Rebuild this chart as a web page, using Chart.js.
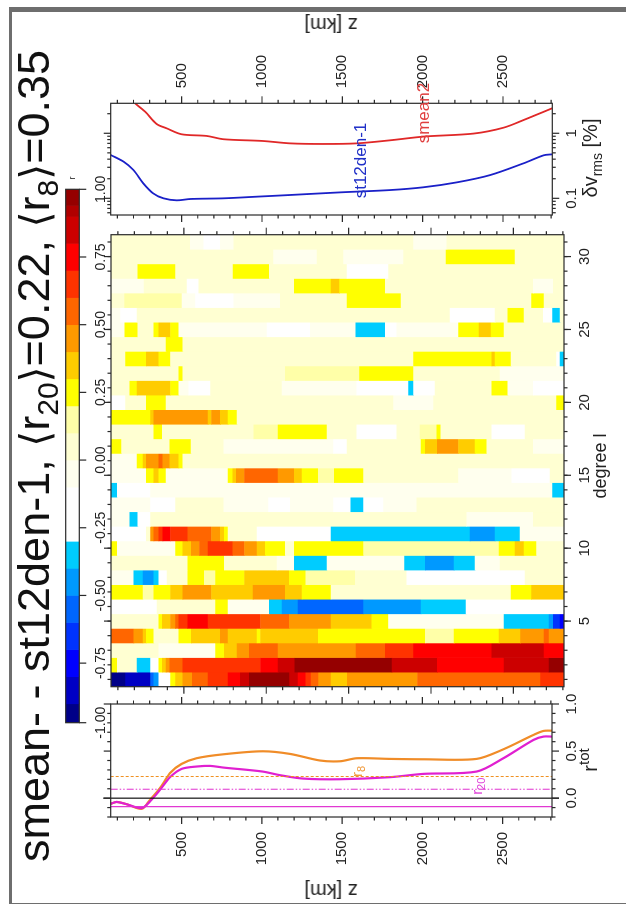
<!DOCTYPE html>
<html lang="en">
<head>
  <meta charset="UTF-8" />
  <title>smean- - st12den-1</title>
  <script src="https://cdn.jsdelivr.net/npm/chart.js@4"></script>
  <style>
    html, body { margin: 0; padding: 0; background: #fff; overflow: hidden; }
    body { width: 626px; height: 904px; position: relative; font-family: "Liberation Sans", sans-serif; color: #222; }
    .bar { position: absolute; background: #6e6e6e; }
    /* the whole figure was plotted landscape and turned on its side */
    #sheet { position: absolute; left: 0; top: 0; width: 904px; height: 626px; transform-origin: 0 0; transform: translateY(904px) rotate(-90deg); filter: blur(0.4px); }
    #sheet canvas { position: absolute; left: 0; top: 0; }
    .lab { position: absolute; transform: translate(-50%, -50%); white-space: nowrap; line-height: 1; }
    .z { transform: translate(-50%, -50%) rotate(-90deg); font-size: 20px; }
    #title { position: absolute; left: 42px; top: 9px; font-size: 45px; white-space: nowrap; line-height: 50px; color: #111; }
    #title sub { font-size: 30px; vertical-align: -9px; line-height: 0; }
    #title .br { font-family: "DejaVu Sans", sans-serif; font-size: 41px; }
    sub, sup { line-height: 0; }
  </style>
</head>
<body>
  <div class="bar" style="left:9px;top:7px;width:3px;height:897px"></div>
  <div class="bar" style="left:9px;top:7px;width:617px;height:5px"></div>
  <div class="bar" style="left:9px;top:903px;width:617px;height:1px"></div>
  <div id="sheet">
    <canvas id="rChart" width="904" height="626"></canvas>
    <canvas id="heatChart" width="904" height="626"></canvas>
    <canvas id="rmsChart" width="904" height="626"></canvas>
    <canvas id="barChart" width="904" height="626"></canvas>
    <div id="title">smean- - st12den-1, <span class="br">⟨</span>r<sub>20</sub><span class="br">⟩</span>=0.22, <span class="br">⟨</span>r<sub>8</sub><span class="br">⟩</span>=0.35</div>
    <div class="lab" style="left:726px;top:72px;font-size:9px">r</div>
    <div class="lab" style="left:438px;top:600px;font-size:18px">degree l</div>
    <div class="lab z" style="left:13px;top:331px">z [km]</div>
    <div class="lab z" style="left:879px;top:331px">z [km]</div>
    <div class="lab" style="left:144px;top:590px;font-size:20px">r<sup style="font-size:15px">tot</sup></div>
    <div class="lab" style="left:746px;top:590px;font-size:20px">δv<sub style="font-size:14px">rms</sub> [%]</div>
  </div>

  <script>
    const FONT = '"Liberation Sans", sans-serif';
    const zMin = 58;
    const zMax = 2807;
    const zMajor = [500, 1000, 1500, 2000, 2500];
    const zMinor = [100, 200, 300, 400, 600, 700, 800, 900, 1100, 1200, 1300, 1400, 1600, 1700, 1800, 1900, 2100, 2200, 2300, 2400, 2600, 2700, 2800];

    // colour bar levels
    const barEdges = [-0.97, -0.9, -0.8, -0.7, -0.6, -0.5, -0.4, -0.3, -0.1, 0, 0.1, 0.2, 0.3, 0.4, 0.5, 0.6, 0.7, 0.8, 0.9, 0.94, 1];
    const barColors = ["#000088", "#0000c4", "#0000ff", "#0033ff", "#0066ff", "#0099ff", "#00ccff", "#ffffff", "#ffffee", "#ffffd2", "#ffffa8", "#ffff00", "#ffcc00", "#ff9900", "#ff6600", "#ff3300", "#ff0000", "#cc0000", "#b00000", "#950000"];
    const barTicks = [-1, -0.75, -0.5, -0.25, 0, 0.25, 0.5, 0.75, 1];

    // heat map: for each degree l the upper depth of every cell and its r
    const degrees = ["1","2","3","4","5","6","7","8","9","10","11","12","13","14","15","16","17","18","19","20","21","22","23","24","25","26","27","28","29","30","31"];
    const cellEnds = [
      [147,298,318,349,419,450,494,551,647,769,843,898,1142,1193,1241,1272,1318,1393,1492,1918,2665,2807],
      [96,217,298,349,369,393,415,494,965,1072,1173,1763,2039,2443,2716,2807],
      [349,692,746,823,898,1072,1546,1722,1894,2369,2686,2807],
      [197,252,272,318,470,546,722,769,944,965,1316,1965,2140,2413,2544,2686,2716,2807],
      [349,369,419,450,470,524,647,965,1140,1393,1641,1742,2443,2716,2742,2783,2807],
      [338,692,769,1019,1096,1193,1591,1940,2213,2807],
      [252,318,419,494,668,920,1116,1217,1393,2486,2611,2807],
      [197,252,318,349,399,524,625,692,868,1140,1241,1540,1853,2571,2807],
      [524,746,1066,1171,1369,1839,1965,2140,2268,2419,2807],
      [96,450,494,546,595,647,797,868,944,995,1116,1171,1591,2413,2510,2564,2641,2807],
      [272,298,318,349,373,419,524,668,722,746,769,944,1393,2237,2389,2540,2807],
      [173,221,298,2217,2621,2807],
      [298,450,742,1015,1146,1409,1514,1591,1712,1914,2807],
      [96,298,2738,2807],
      [272,318,349,393,769,797,819,868,1072,1171,1217,1316,1413,1591,2167,2490,2722,2807],
      [217,252,272,349,373,415,470,494,2807],
      [122,415,544,742,1409,1490,1940,1965,2039,2167,2268,2338,2621,2807],
      [318,369,924,1072,1369,1550,1793,1934,2035,2059,2369,2571,2807],
      [298,318,647,668,722,769,823,2807],
      [147,272,393,1773,2015,2762,2807],
      [173,217,419,470,530,662,1096,1550,1864,1894,2025,2369,2466,2621,2807],
      [470,494,1116,1567,1894,2419,2807],
      [147,272,349,419,1894,2369,2389,2486,2762,2783,2807],
      [393,494,2807],
      [142,221,318,349,419,470,1005,1268,1544,1722,1793,2167,2292,2365,2443,2807],
      [116,217,2116,2389,2466,2564,2682,2738,2783,2807],
      [140,490,571,803,1086,1490,1819,2611,2686,2807],
      [258,520,591,1171,1393,1445,1722,2621,2742,2807],
      [221,450,799,1019,1490,1742,2807],
      [1045,1308,1470,1833,2092,2510,2807],
      [540,621,722,803,1894,2096,2807]
    ];
    const cellR = [
      [-.95,-.85,-.55,-.45,-.2,.25,.35,.45,.55,.65,.75,.85,.97,.85,.75,.65,.55,.45,.35,.45,.55,.65],
      [.25,.05,-.35,-.2,.25,.35,.45,.55,.65,.75,.85,.97,.85,.75,.85,.97],
      [.05,-.05,.25,.35,.45,.55,.45,.55,.65,.75,.85,.75],
      [.55,.45,.35,.25,.05,.25,.35,.45,.35,.25,.35,.25,.15,.25,.35,.45,.55,.45],
      [.05,.25,.35,.45,.55,.65,.75,.65,.55,.45,.35,.25,-.05,-.35,-.45,-.65,-.75],
      [-.2,.05,.25,-.05,-.35,-.45,-.55,-.45,-.35,-.2],
      [.25,.15,.25,.35,.45,.35,.45,.35,.25,.05,.25,.35],
      [-.05,-.35,-.45,-.35,-.2,.05,.25,.15,.25,.35,.25,.15,.05,-.2,.05],
      [.05,.25,.05,-.05,-.35,-.05,-.35,-.45,-.35,-.05,.05],
      [.25,-.05,.25,.35,.45,.55,.65,.55,.45,.35,.25,.05,.25,.15,.25,.35,.25,.05],
      [-.2,.05,.45,.55,.65,.75,.65,.55,.45,.35,.25,.05,-.2,-.35,-.45,-.35,-.05],
      [-.05,-.35,-.2,.05,-.05,.05],
      [-.05,-.2,.05,-.05,-.2,-.05,-.2,-.35,-.2,-.05,.05],
      [-.35,-.2,-.05,-.35],
      [-.05,.25,.35,.25,-.05,.25,.35,.45,.55,.45,.35,.25,.15,.25,.05,-.05,-.2,.05],
      [-.05,.25,.35,.45,.55,.45,.35,.25,.05],
      [.25,.05,.25,.05,-.05,-.2,.05,.25,.35,.45,.35,.25,.05,-.05],
      [.05,.25,.05,.15,.25,.05,-.2,.05,.15,.25,.05,-.2,.05],
      [.25,.35,.45,.35,.45,.35,.25,.05],
      [-.2,.05,.25,.05,-.05,.05,.25],
      [.05,.25,.35,.25,-.05,-.2,.05,-.05,-.2,-.35,-.2,.05,.25,-.05,-.2],
      [.05,.25,.05,.15,.25,.05,-.05],
      [.05,.25,.35,.25,.05,.25,.35,.25,.05,-.2,-.35],
      [.05,.25,.05],
      [-.05,.25,.05,.25,.35,.25,-.05,-.2,-.05,-.35,-.2,-.05,.25,.35,.25,.05],
      [-.05,-.2,.05,-.2,.05,.25,.05,-.2,-.35,.05],
      [.05,.15,-.05,-.2,-.05,.05,.25,.05,.25,.05],
      [-.05,.05,-.2,.05,.25,.35,.25,.05,-.05,.05],
      [.05,.25,.05,.25,.05,-.2,.05],
      [.05,-.05,.05,-.05,.05,.25,.05],
      [.05,-.05,-.2,-.05,.05,-.05,.05]
    ];

    // correlation panel
    const r8Z = [58,95,157,251,303,365,427,500,593,760,1003,1175,1362,1487,1590,1798,2006,2338,2504,2691,2754,2807];
    const r8 = [-.06,-.04,-.064,-.113,-.018,.106,.265,.364,.424,.466,.498,.47,.40,.392,.424,.417,.413,.417,.519,.671,.714,.717];
    const r20Z = [58,95,157,251,303,365,427,500,593,677,760,1003,1113,1258,1487,1798,2006,2338,2504,2691,2754,2807];
    const r20 = [-.06,-.04,-.064,-.106,-.035,.088,.223,.311,.336,.343,.325,.283,.244,.208,.201,.223,.258,.283,.424,.618,.654,.654];
    const rMean8 = 0.23;
    const rMean20 = 0.095;
    const rZero = 0;
    const rLow = -0.09;
    const rTicks = [0, 0.5, 1];
    const rMinor = [-0.2, -0.1, 0.1, 0.2, 0.3, 0.4, 0.6, 0.7, 0.8, 0.9];

    // rms panel
    const smeanZ = [209,272,344,407,500,656,760,1003,1175,1383,1590,1798,2006,2317,2504,2629,2807];
    const smean = [2.89,2.15,1.39,1.19,.965,.91,.81,.762,.70,.685,.70,.78,.89,.99,1.22,1.60,2.43];
    const stZ = [58,137,199,261,323,386,469,552,760,967,1175,1487,1798,2006,2213,2421,2629,2754,2807];
    const st = [.464,.367,.273,.170,.119,.100,.0931,.0976,.1,.106,.1125,.1235,.134,.148,.176,.228,.346,.459,.475];
    const rmsTicks = [0.1, 1];
    const rmsMinor = [0.06, 0.07, 0.08, 0.09, 0.2, 0.3, 0.4, 0.5, 0.6, 0.7, 0.8, 0.9, 2];

    function colorFor(r) {
      for (let i = 0; i < barColors.length; i++) {
        if (r < barEdges[i + 1]) return barColors[i];
      }
      return barColors[barColors.length - 1];
    }

    // frame and tick marks on the outside of a panel
    const frameTicks = {
      id: "frameTicks",
      afterDraw(chart, args, opts) {
        const { ctx, chartArea: a, scales } = chart;
        ctx.save();
        ctx.strokeStyle = "#2a2a2a";
        ctx.lineWidth = 1.2;
        ctx.strokeRect(a.left, a.top, a.width, a.height);
        const mark = (scale, values, len, sides) => values.forEach(v => {
          const p = scale.getPixelForValue(v);
          ctx.beginPath();
          if (scale.isHorizontal()) {
            if (sides.includes("t")) { ctx.moveTo(p, a.top); ctx.lineTo(p, a.top - len); }
            if (sides.includes("b")) { ctx.moveTo(p, a.bottom); ctx.lineTo(p, a.bottom + len); }
          } else {
            if (sides.includes("l")) { ctx.moveTo(a.left, p); ctx.lineTo(a.left - len, p); }
            if (sides.includes("r")) { ctx.moveTo(a.right, p); ctx.lineTo(a.right + len, p); }
          }
          ctx.stroke();
        });
        opts.marks.forEach(m => {
          mark(scales[m.axis], m.major, 7, m.sides);
          mark(scales[m.axis], m.minor || [], 3.5, m.sides);
        });
        ctx.restore();
      }
    };

    // small names written next to the curves
    const curveNames = {
      id: "curveNames",
      afterDraw(chart, args, opts) {
        const { ctx, scales } = chart;
        ctx.save();
        ctx.textBaseline = "middle";
        opts.items.forEach(t => {
          const x = scales.x.getPixelForValue(t.value);
          const y = scales.y.getPixelForValue(t.z);
          ctx.fillStyle = t.color;
          ctx.font = t.size + "px " + FONT;
          ctx.fillText(t.text, x, y);
          if (t.sub) {
            const w = ctx.measureText(t.text).width;
            ctx.font = (t.size - 4) + "px " + FONT;
            ctx.fillText(t.sub, x + w, y + 4);
          }
        });
        ctx.restore();
      }
    };

    // pins an axis to a fixed thickness so the panel lands where it should
    const fixSize = size => axis => {
      if (axis.isHorizontal()) axis.height = size; else axis.width = size;
      axis.paddingLeft = axis.paddingRight = axis.paddingTop = axis.paddingBottom = 0;
    };
    const setTicks = values => axis => { axis.ticks = values.map(v => ({ value: v })); };
    const tickFont = { family: FONT, size: 15 };
    const zAxisSize = 60;
    const common = {
      responsive: false,
      animation: false,
      events: []
    };
    const zAxis = extra => Object.assign({
      type: "linear",
      reverse: true,
      min: zMin,
      max: zMax,
      grid: { display: false, drawTicks: false },
      border: { display: false }
    }, extra);
    const zLabelled = (position) => zAxis({
      position,
      afterFit: fixSize(zAxisSize),
      afterBuildTicks: setTicks(zMajor),
      ticks: { font: tickFont, color: "#222", padding: 15, autoSkip: false, callback: v => String(v) }
    });

    // correlation panel
    new Chart(document.getElementById("rChart"), {
      type: "scatter",
      data: {
        datasets: [
          { data: [zMin, zMax].map(z => ({ x: rLow, y: z })), borderColor: "#e030d0", borderWidth: 1.2, showLine: true, pointRadius: 0 },
          { data: [zMin, zMax].map(z => ({ x: rMean20, y: z })), borderColor: "#e030d0", borderWidth: 1, borderDash: [7, 2, 1.5, 2, 1.5, 2], showLine: true, pointRadius: 0 },
          { data: [zMin, zMax].map(z => ({ x: rMean8, y: z })), borderColor: "#f09020", borderWidth: 1, borderDash: [3, 2], showLine: true, pointRadius: 0 },
          { data: [12, 2850].map(z => ({ x: rZero, y: z })), borderColor: "#111", borderWidth: 1.2, showLine: true, pointRadius: 0, clip: false },
          { data: r20Z.map((z, i) => ({ x: r20[i], y: z })), borderColor: "#e020d0", borderWidth: 2.2, showLine: true, pointRadius: 0, tension: 0.3 },
          { data: r8Z.map((z, i) => ({ x: r8[i], y: z })), borderColor: "#f08c28", borderWidth: 2.2, showLine: true, pointRadius: 0, tension: 0.3 }
        ]
      },
      options: Object.assign({}, common, {
        layout: { padding: { left: 87 - zAxisSize, right: 904 - 200, top: 110.7, bottom: 626 - 552 - 30 } },
        scales: {
          x: {
            type: "linear", min: -0.2, max: 1,
            grid: { display: false, drawTicks: false }, border: { display: false },
            afterFit: fixSize(30),
            afterBuildTicks: setTicks(rTicks),
            ticks: { font: tickFont, color: "#222", padding: 11, autoSkip: false, maxRotation: 0, callback: v => v.toFixed(1) }
          },
          y: zLabelled("left")
        },
        plugins: {
          legend: { display: false }, tooltip: { enabled: false },
          frameTicks: { marks: [
            { axis: "x", major: rTicks, minor: rMinor, sides: "tb" },
            { axis: "y", major: zMajor, minor: zMinor, sides: "lr" }
          ] },
          curveNames: { items: [
            { text: "r", sub: "8", value: 0.225, z: 1600, color: "#f09838", size: 15 },
            { text: "r", sub: "20", value: 0.035, z: 2348, color: "#e040d8", size: 15 }
          ] }
        }
      }),
      plugins: [frameTicks, curveNames]
    });

    // heat map, one floating bar per cell
    const cells = [];
    const cellColors = [];
    degrees.forEach((l, i) => {
      let from = zMin;
      cellEnds[i].forEach((end, j) => {
        cells.push({ x: l, y: [from, end] });
        cellColors.push(colorFor(cellR[i][j]));
        from = end;
      });
    });
    new Chart(document.getElementById("heatChart"), {
      type: "bar",
      data: {
        labels: degrees,
        datasets: [{ data: cells, backgroundColor: cellColors, borderWidth: 0, barPercentage: 1, categoryPercentage: 1 }]
      },
      options: Object.assign({}, common, {
        layout: { padding: { left: 217.3, right: 904 - 669.3, top: 111, bottom: 626 - 564 - 30 } },
        scales: {
          x: {
            type: "category",
            grid: { display: false, drawTicks: false }, border: { display: false },
            afterFit: fixSize(30),
            afterBuildTicks: axis => { axis.ticks = axis.ticks.filter(t => Number(degrees[t.value]) % 5 === 0); },
            ticks: { font: tickFont, color: "#222", padding: 12, autoSkip: false, maxRotation: 0 }
          },
          y: zAxis({ ticks: { display: false }, afterFit: fixSize(0) })
        },
        plugins: {
          legend: { display: false }, tooltip: { enabled: false },
          frameTicks: { marks: [
            { axis: "x", major: degrees.map((d, i) => i).filter(i => Number(degrees[i]) % 5 === 0), minor: degrees.map((d, i) => i), sides: "tb" },
            { axis: "y", major: zMajor, minor: zMinor, sides: "lr" }
          ] }
        }
      }),
      plugins: [frameTicks]
    });

    // rms panel
    new Chart(document.getElementById("rmsChart"), {
      type: "scatter",
      data: {
        datasets: [
          { data: smeanZ.map((z, i) => ({ x: smean[i], y: z })), borderColor: "#e02828", borderWidth: 1.8, showLine: true, pointRadius: 0, tension: 0.3 },
          { data: stZ.map((z, i) => ({ x: st[i], y: z })), borderColor: "#1a20c8", borderWidth: 1.8, showLine: true, pointRadius: 0, tension: 0.3 }
        ]
      },
      options: Object.assign({}, common, {
        layout: { padding: { left: 689, right: 904 - 800.7 - zAxisSize, top: 110.7, bottom: 626 - 552.3 - 30 } },
        scales: {
          x: {
            type: "logarithmic", min: 0.0554, max: 2.89,
            grid: { display: false, drawTicks: false }, border: { display: false },
            afterFit: fixSize(30),
            afterBuildTicks: setTicks(rmsTicks),
            ticks: { font: tickFont, color: "#222", padding: 11, autoSkip: false, maxRotation: 0, callback: v => String(v) }
          },
          y: zLabelled("right")
        },
        plugins: {
          legend: { display: false }, tooltip: { enabled: false },
          frameTicks: { marks: [
            { axis: "x", major: rmsTicks, minor: rmsMinor, sides: "tb" },
            { axis: "y", major: zMajor, minor: zMinor, sides: "lr" }
          ] },
          curveNames: { items: [
            { text: "smean2", value: 0.70, z: 2012, color: "#e04040", size: 17 },
            { text: "st12den-1", value: 0.1, z: 1615, color: "#2030c8", size: 17 }
          ] }
        }
      }),
      plugins: [frameTicks, curveNames]
    });

    // colour bar
    new Chart(document.getElementById("barChart"), {
      type: "bar",
      data: {
        labels: ["r"],
        datasets: [{
          data: barColors.map((c, i) => ({ y: "r", x: [barEdges[i], barEdges[i + 1]] })),
          backgroundColor: barColors, borderWidth: 0, barPercentage: 1, categoryPercentage: 1
        }]
      },
      options: Object.assign({}, common, {
        indexAxis: "y",
        layout: { padding: { left: 181.3, right: 904 - 714.7, top: 65.7, bottom: 626 - 79.3 - 30 } },
        scales: {
          x: {
            type: "linear", min: barEdges[0], max: 1,
            grid: { display: false, drawTicks: false }, border: { display: false },
            afterFit: fixSize(30),
            afterBuildTicks: setTicks(barTicks.map(v => Math.max(v, barEdges[0]))),
            ticks: { font: { family: FONT, size: 14 }, color: "#222", padding: 13, autoSkip: false, maxRotation: 0, callback: v => (v < -0.9 ? -1 : v).toFixed(2) }
          },
          y: { type: "category", display: false }
        },
        plugins: {
          legend: { display: false }, tooltip: { enabled: false },
          frameTicks: { marks: [{ axis: "x", major: barTicks.map(v => Math.max(v, barEdges[0])), sides: "b" }] }
        }
      }),
      plugins: [frameTicks]
    });
  </script>
</body>
</html>
